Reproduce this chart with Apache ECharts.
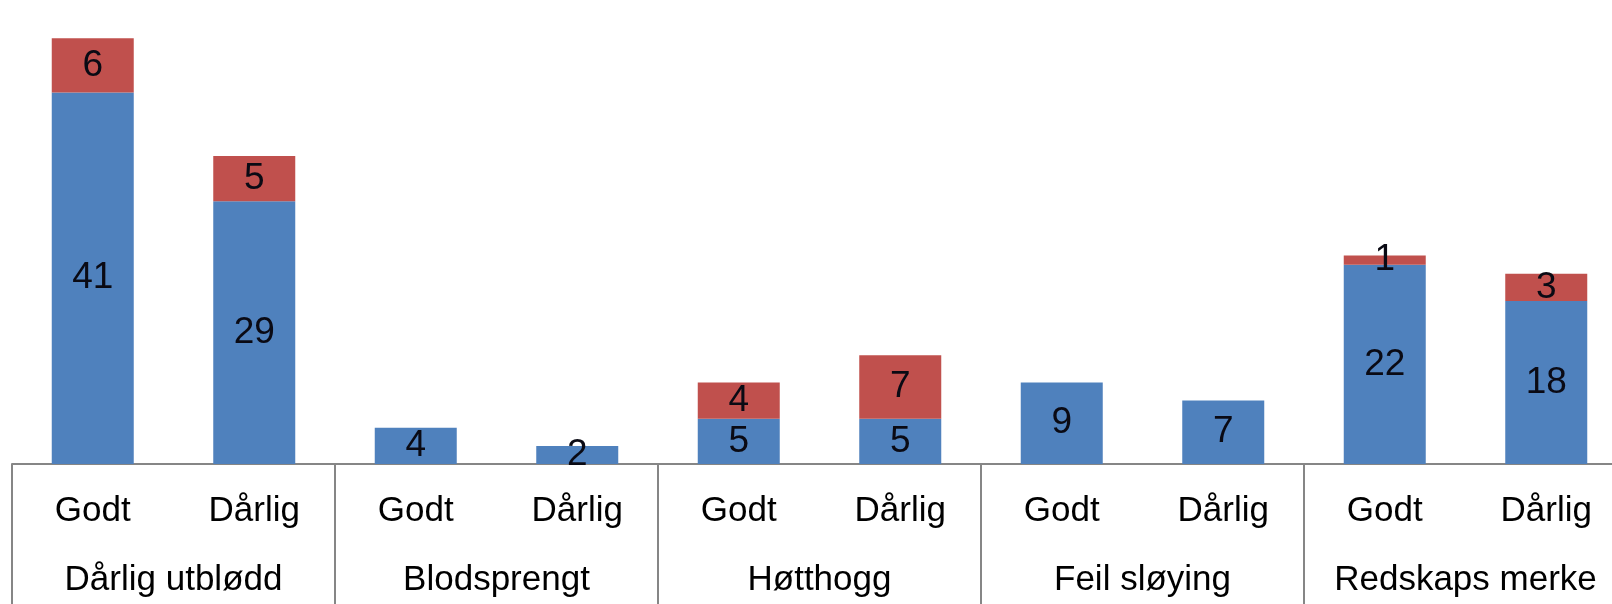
<!DOCTYPE html>
<html>
<head>
<meta charset="utf-8">
<script src="https://cdn.jsdelivr.net/npm/echarts@6/dist/echarts.min.js"></script>
<style>
  html, body { margin: 0; padding: 0; background: #fff; }
  #chart { width: 1612px; height: 604px; }
</style>
</head>
<body>
<div id="chart"></div>
<script>
const subLabels = ['Godt', 'Dårlig', 'Godt', 'Dårlig', 'Godt', 'Dårlig', 'Godt', 'Dårlig', 'Godt', 'Dårlig']
const groupLabels = ['Dårlig utblødd', 'Blodsprengt', 'Høtthogg', 'Feil sløying', 'Redskaps merke']
const blueValues = [41, 29, 4, 2, 5, 5, 9, 7, 22, 18]
const redValues = [6, 5, 0, 0, 4, 7, 0, 0, 1, 3]

const chart = echarts.init(document.getElementById('chart'))

const fontFamily = '"Liberation Sans", Arial, sans-serif'
const axisColor = '#868686'

const segmentLabel = {
  show: true,
  position: 'inside',
  fontFamily: fontFamily,
  fontSize: 37,
  color: '#0a0a14',
  formatter: (p) => (p.value ? String(p.value) : '')
}

chart.setOption({
  animation: false,
  grid: {
    left: 12,
    top: 11,
    bottom: 140,
    width: 1615,
    outerBoundsMode: 'none'
  },
  xAxis: [
    {
      type: 'category',
      position: 'bottom',
      data: subLabels,
      axisLine: { show: true, lineStyle: { color: axisColor, width: 2 } },
      axisTick: { show: false },
      axisLabel: {
        interval: 0,
        margin: 30,
        fontFamily: fontFamily,
        fontSize: 35,
        color: '#000'
      }
    },
    {
      type: 'category',
      position: 'bottom',
      data: groupLabels,
      axisLine: { show: false },
      axisTick: {
        show: true,
        length: 150,
        lineStyle: { color: axisColor, width: 2 }
      },
      axisLabel: {
        interval: 0,
        margin: 99,
        fontFamily: fontFamily,
        fontSize: 35,
        color: '#000'
      }
    }
  ],
  yAxis: {
    type: 'value',
    min: 0,
    max: 50,
    show: false,
    splitLine: { show: false }
  },
  series: [
    {
      name: 'blue',
      type: 'bar',
      stack: 'total',
      xAxisIndex: 0,
      barWidth: 82,
      data: blueValues,
      itemStyle: { color: '#4f81bd' },
      label: segmentLabel
    },
    {
      name: 'red',
      type: 'bar',
      stack: 'total',
      xAxisIndex: 0,
      barWidth: 82,
      data: redValues,
      itemStyle: { color: '#c0504d' },
      label: segmentLabel
    }
  ]
})
</script>
</body>
</html>
